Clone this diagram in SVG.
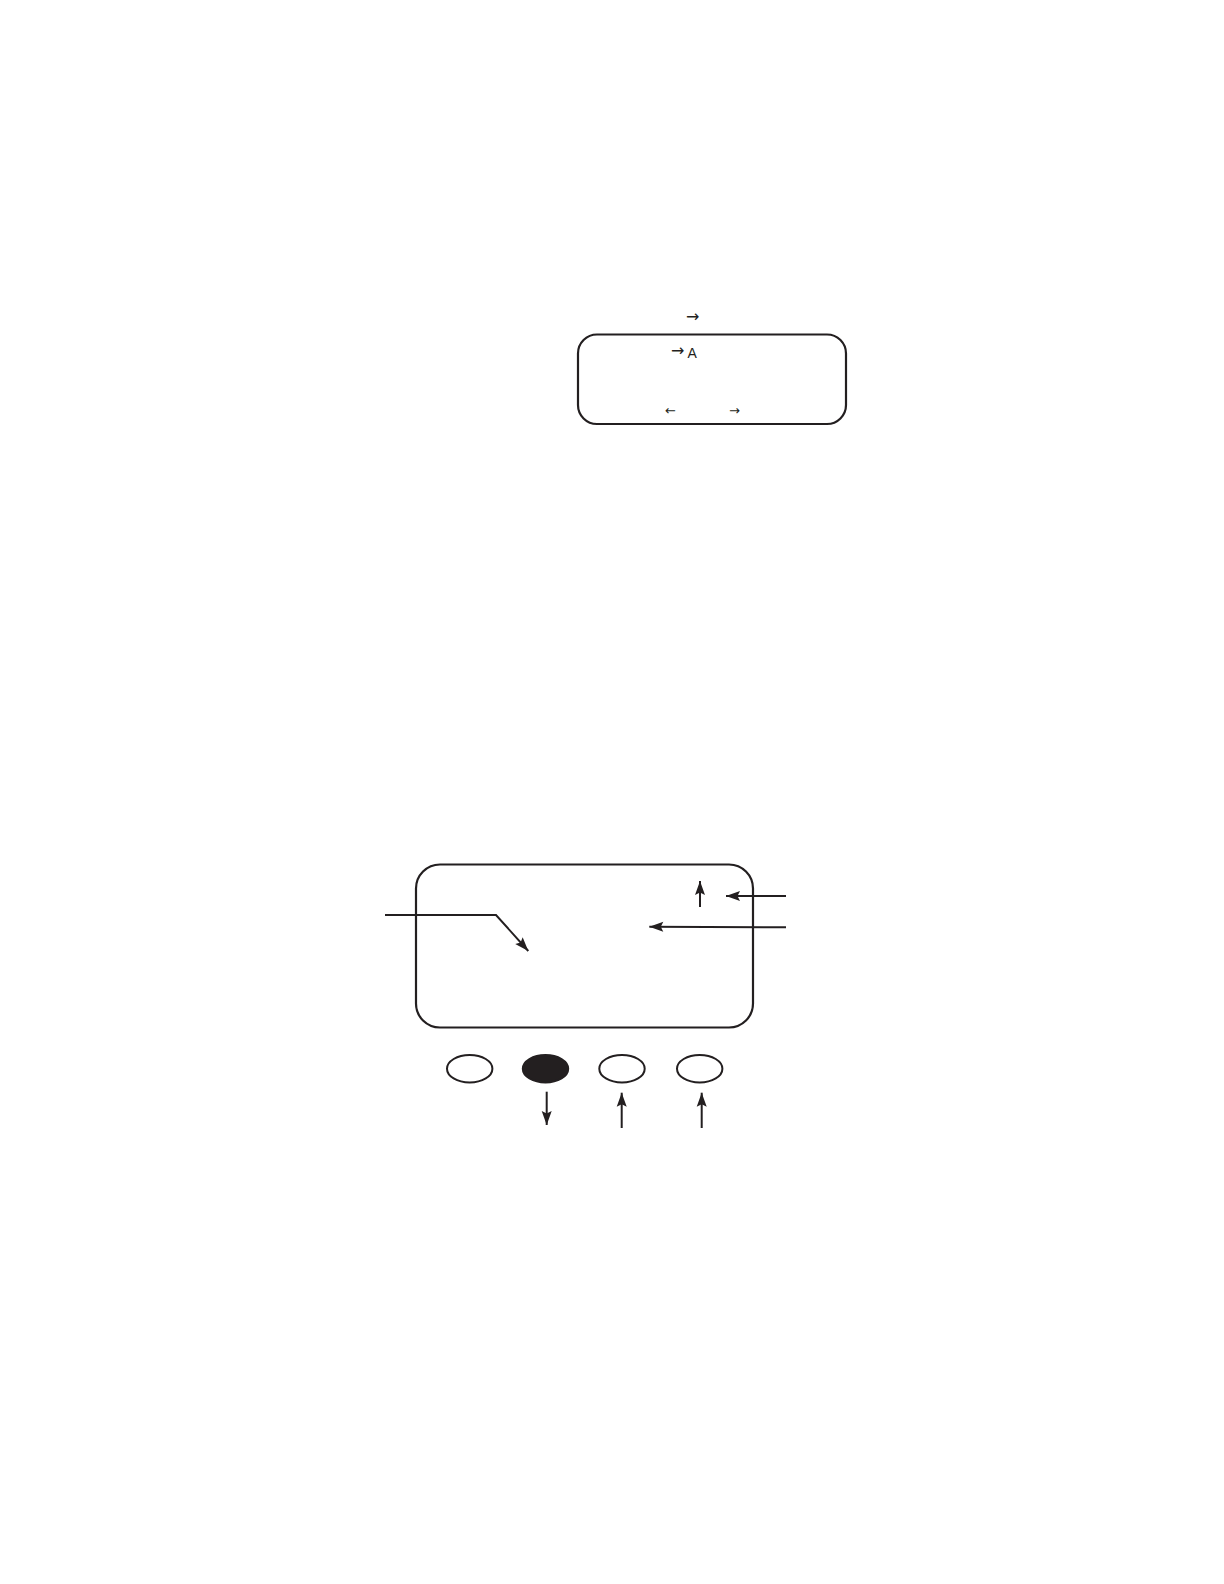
<svg xmlns="http://www.w3.org/2000/svg" width="1224" height="1584" viewBox="0 0 1224 1584">
<style>
.box{fill:none;stroke:#231f20;stroke-width:2.2}
.btn{fill:#fff;stroke:#231f20;stroke-width:2}
.btnf{fill:#231f20;stroke:#231f20;stroke-width:2}
.ln{fill:none;stroke:#231f20;stroke-width:2;marker-end:url(#ah)}
.t{font-family:"Liberation Sans","DejaVu Sans",sans-serif;fill:#231f20}
.ar{font-family:"DejaVu Sans",sans-serif;fill:#231f20}
</style>
<defs>
<marker id="ah" markerUnits="userSpaceOnUse" viewBox="-15 -7 17 14" refX="0" refY="0" markerWidth="17" markerHeight="14" orient="auto">
<path d="M0,0 L-14,-5 L-11.5,0 L-14,5 Z" fill="#231f20"/>
</marker>
</defs>
<rect width="1224" height="1584" fill="#fff"/>
<g id="top-display">
<rect class="box" x="578" y="334.5" width="268" height="89.5" rx="19"/>
<text class="ar" x="686" y="322" font-size="16">→</text>
<text class="ar" x="671" y="355.5" font-size="16">→</text>
<text class="t" x="687.5" y="357.5" font-size="14">A</text>
<text class="ar" x="665" y="415" font-size="13">←</text>
<text class="ar" x="729" y="415" font-size="13">→</text>
</g>
<g id="bottom-display">
<rect class="box" x="416" y="864.5" width="337" height="163" rx="24"/>
</g>
<g id="button-1"><ellipse class="btn" cx="469.7" cy="1068.7" rx="22.7" ry="13.7"/></g>
<g id="button-2"><ellipse class="btnf" cx="545.5" cy="1068.7" rx="22.7" ry="13.7"/></g>
<g id="button-3"><ellipse class="btn" cx="622" cy="1068.7" rx="22.7" ry="13.7"/></g>
<g id="button-4"><ellipse class="btn" cx="699.7" cy="1068.7" rx="22.7" ry="13.7"/></g>
<g id="connectors">
<polyline class="ln" points="385,915 496,915 528.3,951"/>
<line class="ln" x1="700" y1="907" x2="700" y2="881"/>
<line class="ln" x1="786" y1="896" x2="726" y2="896"/>
<line class="ln" x1="786" y1="927.3" x2="649.3" y2="926.7"/>
<line class="ln" x1="546.7" y1="1091.7" x2="546.7" y2="1125"/>
<line class="ln" x1="621.7" y1="1128" x2="621.7" y2="1092.7"/>
<line class="ln" x1="701.7" y1="1128" x2="701.7" y2="1092.7"/>
</g>
</svg>
